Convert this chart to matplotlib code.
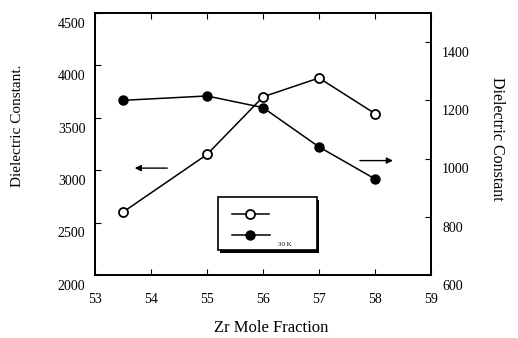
import matplotlib
matplotlib.use("Agg")
import matplotlib.pyplot as plt
import matplotlib.transforms as mtransforms
from matplotlib.lines import Line2D
from matplotlib.patches import Rectangle

plt.rcParams["font.family"] = ["Liberation Serif", "DejaVu Serif"]

# data
zr_fraction = [53.5, 55, 56, 57, 58]
eps_open = [2600, 3150, 3700, 3880, 3540]      # left axis
eps_filled = [1200, 1215, 1175, 1040, 930]     # right axis

left_ticks = [2000, 2500, 3000, 3500, 4000, 4500]
right_ticks = [600, 800, 1000, 1200, 1400]
x_ticks = [53, 54, 55, 56, 57, 58, 59]

fig = plt.figure(figsize=(5.18, 3.38), dpi=100)
ax = fig.add_axes([95 / 518, 63 / 338, 336 / 518, 262 / 338])
ax2 = ax.twinx()

ax.plot(zr_fraction, eps_open, color="black", lw=1.1, marker="o", ms=6.5,
        mfc="white", mec="black", mew=1.3)
ax2.plot(zr_fraction, eps_filled, color="black", lw=1.1, marker="o", ms=6.5,
         mfc="black", mec="black")

ax.set_xlim(53, 59)
ax.set_ylim(2000, 4500)
ax2.set_ylim(600, 1500)
ax.set_xticks(x_ticks)
ax.set_yticks(left_ticks)
ax2.set_yticks(right_ticks)

ax.tick_params(axis="x", direction="in", length=4, top=True, pad=13, labelsize=10)
ax.tick_params(axis="y", direction="in", length=4, pad=7, labelsize=10)
ax2.tick_params(axis="y", direction="in", length=4, pad=8, labelsize=10)

# tick labels in the scan sit a little below their ticks
shift = mtransforms.ScaledTranslation(0, -7 / 72, fig.dpi_scale_trans)
for t in ax.yaxis.get_major_ticks():
    t.label1.set_transform(t.label1.get_transform() + shift)
for t in ax2.yaxis.get_major_ticks():
    t.label2.set_transform(t.label2.get_transform() + shift)

for a in (ax, ax2):
    for s in a.spines.values():
        s.set_linewidth(1.3)

fig.text(18 / 518, 1 - 126 / 338, "Dielectric Constant.", rotation=90,
         ha="center", va="center", fontsize=11)
fig.text(497 / 518, 1 - 139 / 338, "Dielectric Constant", rotation=-90,
         ha="center", va="center", fontsize=11.5)
fig.text(271 / 518, 1 - 328 / 338, "Zr Mole Fraction", ha="center",
         va="center", fontsize=12)

# arrows pointing to the relevant axis
ax.annotate("", xy=(53.66, 3020), xytext=(54.34, 3020),
            arrowprops=dict(arrowstyle="-|>", color="black", lw=1.0,
                            mutation_scale=9))
ax2.annotate("", xy=(58.37, 993), xytext=(57.68, 993),
             arrowprops=dict(arrowstyle="-|>", color="black", lw=1.0,
                             mutation_scale=9))

# legend box with shadow
ax.add_patch(Rectangle((0.372, 0.085), 0.295, 0.203, transform=ax.transAxes,
                       facecolor="black", edgecolor="none", zorder=4))
ax.add_patch(Rectangle((0.366, 0.095), 0.295, 0.203, transform=ax.transAxes,
                       facecolor="white", edgecolor="black", lw=1.2, zorder=5))
ax.add_line(Line2D([0.408, 0.518], [0.233, 0.233], transform=ax.transAxes,
                   color="black", lw=1.1, zorder=6))
ax.add_line(Line2D([0.461], [0.233], transform=ax.transAxes, marker="o",
                   ms=6.5, mfc="white", mec="black", mew=1.3, zorder=7))
ax.add_line(Line2D([0.408, 0.521], [0.153, 0.153], transform=ax.transAxes,
                   color="black", lw=1.1, zorder=6))
ax.add_line(Line2D([0.461], [0.153], transform=ax.transAxes, marker="o",
                   ms=6.5, mfc="black", mec="black", zorder=7))
ax.text(0.565, 0.118, "30 K", transform=ax.transAxes, fontsize=5,
        ha="center", va="center", zorder=8)

fig.savefig("out.png", dpi=100)
